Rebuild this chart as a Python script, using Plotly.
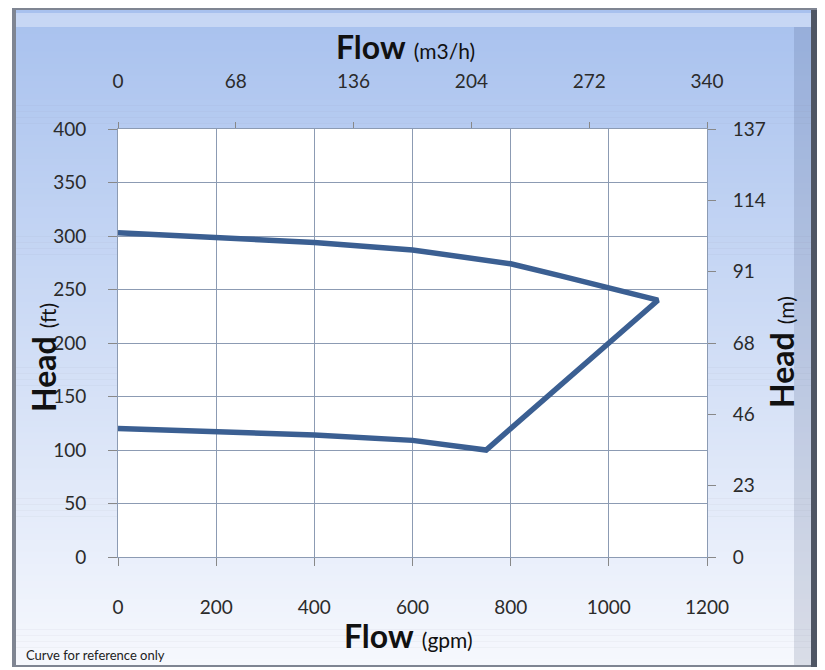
import plotly.graph_objects as go

# ---- data ----
flow_gpm = [0, 200, 400, 600, 700, 800, 900, 1000, 1100, 750, 600, 400, 200, 0]
head_ft = [303, 299, 294, 287, 281, 274, 263, 251, 240, 100, 109, 114, 117, 120]

bottom_ticks = [0, 200, 400, 600, 800, 1000, 1200]
left_ticks = [0, 50, 100, 150, 200, 250, 300, 350, 400]
top_ticks = [0, 68, 136, 204, 272, 340]
right_ticktext = ["0", "23", "46", "68", "91", "114", "137"]
right_max = 137

# ---- layout geometry (reference pixels; page body adds an 8px offset) ----
OFF = 8
W, H = 825 - OFF, 670 - OFF
L, R, T, B = 118 - OFF, 707 - OFF, 129 - OFF, 557 - OFF
PW, PH = R - L, B - T


def px(x):
    return (x - OFF - L) / PW


def py(y):
    return (B - (y - OFF)) / PH


FONT = "Lato, 'Open Sans', sans-serif"
LINE = "#3B5F92"
GRID = "#8C9BB3"
TXT = "#2b2b2b"

fig = go.Figure()
fig.add_trace(go.Scatter(x=flow_gpm, y=head_ft, mode="lines",
                         line=dict(color=LINE, width=5.5),
                         showlegend=False, hoverinfo="skip"))
fig.add_trace(go.Scatter(x=[None], y=[None], xaxis="x2", yaxis="y2",
                         mode="lines", showlegend=False, hoverinfo="skip"))

shapes = []
# outer frame
shapes.append(dict(type="rect", xref="paper", yref="paper", layer="below",
                   x0=px(12), x1=px(821), y0=py(8), y1=py(667),
                   fillcolor="#7f8592", line=dict(width=0)))
# gradient background
top_c = (168, 193, 238)
bot_c = (246, 248, 253)
y_start, y_end = 10, 665
n = 110
for i in range(n):
    ya = y_start + (y_end - y_start) * i / n
    yb = y_start + (y_end - y_start) * (i + 1) / n + 0.6
    t = i / (n - 1)
    c = tuple(int(round(top_c[k] + (bot_c[k] - top_c[k]) * t)) for k in range(3))
    shapes.append(dict(type="rect", xref="paper", yref="paper", layer="below",
                       x0=px(16), x1=px(811), y0=py(ya), y1=py(min(yb, y_end)),
                       fillcolor="rgb(%d,%d,%d)" % c, line=dict(width=0)))
# top bevel highlight
shapes.append(dict(type="rect", xref="paper", yref="paper", layer="below",
                   x0=px(16), x1=px(811), y0=py(13), y1=py(27),
                   fillcolor="rgba(255,255,255,0.35)", line=dict(width=0)))
# right bevel shading
shapes.append(dict(type="rect", xref="paper", yref="paper", layer="below",
                   x0=px(794), x1=px(811), y0=py(27), y1=py(665),
                   fillcolor="rgba(40,60,100,0.14)", line=dict(width=0)))
shapes.append(dict(type="rect", xref="paper", yref="paper", layer="below",
                   x0=px(811), x1=px(821), y0=py(10), y1=py(667),
                   fillcolor="#4f5664", line=dict(width=0)))
# white plot area
shapes.append(dict(type="rect", xref="paper", yref="paper", layer="below",
                   x0=0, x1=1, y0=0, y1=1,
                   fillcolor="white", line=dict(width=0)))

tickfont = dict(family=FONT, size=19, color=TXT)
title_font = dict(family=FONT, size=32, color="#111")
sub = "<span style='font-size:21px'>%s</span>"

annotations = [
    dict(text="<b>Flow</b> " + sub % "(m3/h)",
         xref="paper", yref="paper", x=px(405), y=py(46), showarrow=False,
         font=title_font, xanchor="center", yanchor="middle"),
    dict(text="<b>Flow</b> " + sub % "(gpm)",
         xref="paper", yref="paper", x=px(408), y=py(635), showarrow=False,
         font=title_font, xanchor="center", yanchor="middle"),
    dict(text="<b>Head</b> " + sub % "(ft)",
         xref="paper", yref="paper", x=px(43), y=py(358), showarrow=False, textangle=-90,
         font=title_font, xanchor="center", yanchor="middle"),
    dict(text="<b>Head</b> " + sub % "(m)",
         xref="paper", yref="paper", x=px(781), y=py(352), showarrow=False, textangle=-90,
         font=title_font, xanchor="center", yanchor="middle"),
    dict(text="Curve for reference only",
         xref="paper", yref="paper", x=px(24), y=py(655), showarrow=False,
         font=dict(family=FONT, size=13, color="#222"), xanchor="left", yanchor="middle"),
]

fig.update_layout(
    width=W, height=H,
    margin=dict(l=L, r=W - R, t=T, b=H - B, pad=0),
    paper_bgcolor="white",
    plot_bgcolor="rgba(0,0,0,0)",
    shapes=shapes,
    annotations=annotations,
    xaxis=dict(range=[0, 1200], tickvals=bottom_ticks, showgrid=True, gridcolor=GRID,
               gridwidth=1, zeroline=False, showline=True, linecolor=GRID, mirror=False,
               ticks="outside", ticklen=8, tickcolor="#888", tickfont=tickfont,
               ticklabelstandoff=25, fixedrange=True),
    yaxis=dict(range=[0, 400], tickvals=left_ticks, showgrid=True, gridcolor=GRID,
               gridwidth=1, zeroline=False, showline=True, linecolor=GRID,
               ticks="outside", ticklen=9, tickcolor="#888", tickfont=tickfont,
               ticklabelstandoff=18, fixedrange=True),
    xaxis2=dict(range=[0, 340], tickvals=top_ticks, overlaying="x", side="top",
                showgrid=False, zeroline=False, showline=True, linecolor=GRID,
                ticks="outside", ticklen=6, tickcolor="#888", tickfont=tickfont,
                ticklabelstandoff=26, fixedrange=True),
    yaxis2=dict(range=[0, right_max], overlaying="y", side="right",
                tickvals=[right_max * i / 6 for i in range(7)], ticktext=right_ticktext,
                showgrid=False, zeroline=False, showline=True, linecolor=GRID,
                ticks="outside", ticklen=8, tickcolor="#888", tickfont=tickfont,
                ticklabelstandoff=13, fixedrange=True),
)

fig.write_html("out.html")
